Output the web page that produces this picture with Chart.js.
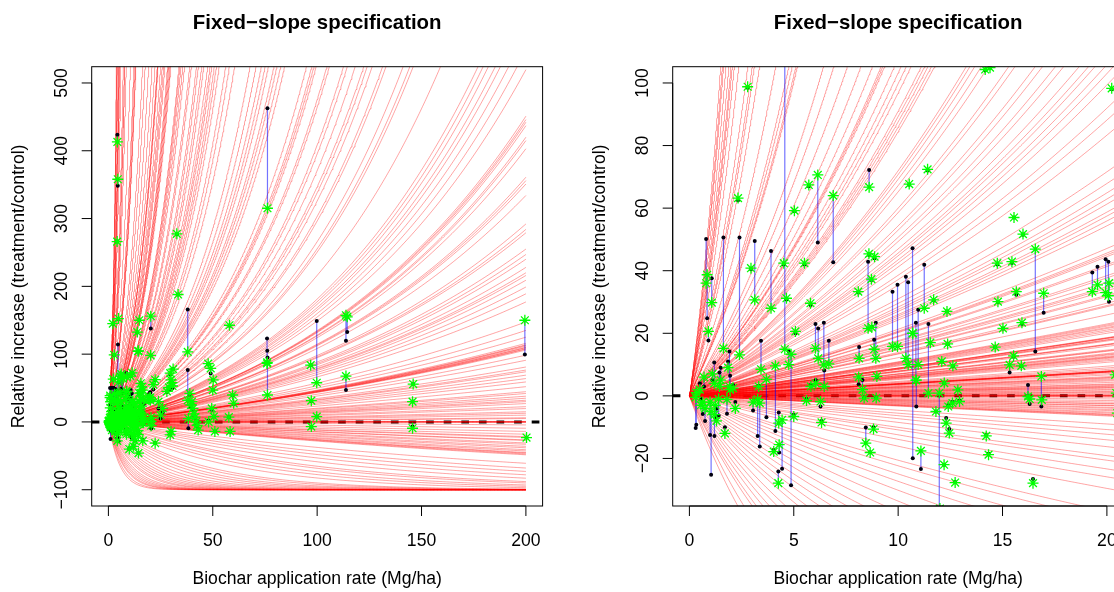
<!DOCTYPE html>
<html>
<head>
<meta charset="utf-8">
<script src="https://cdn.jsdelivr.net/npm/chart.js@4.4.0/dist/chart.umd.min.js"></script>
<style>
  html, body { margin: 0; padding: 0; background: #fff; overflow: hidden; }
  #wrap { position: relative; width: 1114px; height: 592px; overflow: hidden; }
  canvas { position: absolute; top: 0; }
</style>
</head>
<body>
<div id="wrap">
  <canvas id="full" width="581" height="592" style="left:0"></canvas>
  <canvas id="zoom" width="581" height="592" style="left:581px"></canvas>
</div>
<script>
// Study-level slopes of the log response ratio (per Mg/ha); each gives
// relative increase = 100 * (exp(slope * rate) - 1)
const slopes = [
  0.48, 0.455, 0.44, 0.41, 0.38, 0.36, 0.35, 0.334, 0.304, 0.257, 0.239, 0.231, 0.214,
  0.174, 0.151, 0.146, 0.141, 0.139, 0.112, 0.104, 0.095, 0.0875, 0.082, 0.0783, 0.0776,
  0.0769, 0.0732, 0.0709, 0.0692, 0.0677, 0.0647, 0.0638, 0.0629, 0.062, 0.0612, 0.0542,
  0.0535, 0.0526, 0.0514, 0.0502, 0.047, 0.0461, 0.0434, 0.0425, 0.041, 0.0401, 0.0385,
  0.0376, 0.037, 0.0361, 0.0354,
  0.0345, 0.0326, 0.0316, 0.0303, 0.027, 0.0259, 0.025, 0.0244, 0.0239, 0.0231, 0.0227,
  0.0222, 0.0217, 0.0193, 0.0188, 0.0186, 0.0184, 0.0175, 0.0173, 0.01626, 0.016, 0.01549,
  0.01497, 0.01477, 0.01449, 0.01394, 0.01377, 0.01297, 0.01268, 0.01254, 0.01151, 0.01034,
  0.0102, 0.01006, 0.00988, 0.00975, 0.00955, 0.00935, 0.00912,
  0.008533, 0.008487, 0.008451, 0.008404, 0.008243, 0.008195, 0.008077, 0.007641, 0.007587,
  0.007531, 0.00734, 0.006831, 0.006728, 0.006662, 0.006335, 0.006221, 0.006119, 0.005939,
  0.005816, 0.005753, 0.005641, 0.005477, 0.005306, 0.005094, 0.004531, 0.004272, 0.004055,
  0.00385, 0.003781, 0.00371, 0.003662, 0.003614, 0.003428, 0.003235, 0.002967, 0.002841,
  0.00277, 0.002624, 0.002473, 0.002319, 0.002094, 0.001844, 0.001753, 0.00161, 0.001501,
  0.001388, 0.001312, 0.001015, 0.000699, 0.000477, 0.000244, 0.000025,
  0.0037, 0.00375, 0.0038, 0.00365, 0.0003, 0.0006, 0.0009, 0.0012,
  0, 0, 0, 0.00004, -0.00004,
  -0.000225, -0.000488, -0.000754, -0.001217, -0.001539, -0.001855, -0.002231, -0.002638,
  -0.003081, -0.003318, -0.004708, -0.005697, -0.006547, -0.007571, -0.00886, -0.010601,
  -0.011513, -0.013296, -0.014979, -0.017533, -0.023026,
  -0.001, -0.0013, -0.0016, -0.002, -0.0024, -0.0028, -0.003, -0.0032,
  -0.187, -0.166, -0.144, -0.135, -0.123, -0.113, -0.103, -0.094, -0.083, -0.077, -0.0695,
  -0.0634, -0.0574, -0.0519, -0.0463, -0.041, -0.0359, -0.0319, -0.0287, -0.0253
];

// Observations: application rate, fitted value (asterisk), observed value (dot)
const rate = [
  0.30, 0.33, 0.64, 0.80, 0.85, 0.91, 1.07, 1.19, 0.99, 1.04, 1.20, 1.24, 1.40, 1.44, 1.63,
  1.80, 1.92, 1.95, 2.09, 2.40, 2.33, 2.79, 2.95, 3.13, 3.05, 3.27, 3.37, 3.43, 3.32, 3.69,
  3.91, 4.12, 4.04, 4.28, 4.30, 4.26, 4.44, 4.52, 4.57, 4.20, 4.30, 4.50, 4.65, 4.76, 4.87,
  5.00, 5.03, 5.08, 5.51, 5.61, 5.72, 5.80, 5.82, 6.04, 6.05, 6.15, 6.17, 6.28, 6.33, 6.44,
  6.46, 6.68, 6.89, 8.09, 8.11, 8.13, 8.29, 8.37, 8.45, 8.56, 8.61, 8.60, 8.66, 8.72, 8.74,
  8.82, 8.85, 8.87, 8.93, 8.95, 8.98, 9.73, 9.97, 10.37, 10.48, 10.69, 10.70, 11.25, 11.70,
  12.34, 10.85, 10.87, 10.96, 11.45, 11.09, 11.54, 12.37, 12.09, 12.62, 12.21, 12.86, 12.94,
  12.60, 12.40, 11.97, 11.81, 12.30, 12.45, 12.20, 12.73, 14.22, 14.33, 14.75, 15.45, 14.78,
  15.66, 15.02, 15.93, 14.65, 15.53, 15.34, 15.90, 16.57, 16.97, 16.22, 16.30, 16.86, 16.88,
  16.46, 19.30, 19.55, 19.94, 20.07, 20.10, 20.40, 20.45, 20.50, 14.17, 20.23, 11.41, 10.53,
  15.55, 15.98, 2.10, 4.80, 14.80, 20.30, 13.90, 14.40, 12.00, 14.40, 10.00,
  0.50, 0.55, 0.70, 0.75, 1.10, 1.30, 1.50, 1.70, 1.85, 2.20,
  22.4, 22.4, 21.5, 24.0, 25.0, 26.0, 28.0, 29.0, 29.6, 30.0, 30.5, 30.7, 29.6, 30.0, 31.0,
  32.8, 33.4, 38.0, 38.0, 38.3, 39.0, 40.0, 40.5, 41.0, 41.5, 42.0, 42.5, 43.0, 39.5, 47.8,
  49.0, 50.2, 50.0, 50.5, 51.0, 49.5, 48.0, 57.7, 58.3, 58.0, 59.5, 60.0, 76.0, 76.1, 76.2,
  76.2, 96.9, 97.2, 99.8, 99.8, 97.2, 113.8, 114.4, 113.8, 146.0, 145.7, 145.7, 199.5, 200.3
];
const fitted = [
  -0.5, 1.0, -2.0, 36.0, 38.7, 20.6, 29.8, 4.0, -2.0, -5.0, -6.0, -3.0, -1.0, 3.0, 15.2,
  -1.1, 3.0, 2.0, 2.5, 13.1, 63.2, 98.8, 40.8, 30.7, -2.0, -1.1, -2.3, 8.5, 3.0, 5.3,
  28.0, 9.6, -17.8, -8.7, -15.6, -27.9, -7.7, 42.4, 14.9, 266, 413, 358, 31.2, 10.0, 13.3,
  -6.6, 59.2, 20.6, 42.4, -1.5, 67.4, 29.6, 3.0, 15.2, 4.0, 70.6, 12.0, -1.8, -8.5, 9.9,
  3.0, 10.2, 64.0, 33.3, 6.0, 12.0, 2.0, -0.7, -15.1, 21.6, 66.7, 45.4, -18.1, 37.3, 21.9,
  -10.6, 14.9, 44.5, 12.0, -0.7, 6.2, 15.8, 15.8, 12.0, 10.0, 20.0, 20.0, 28.0, 30.7,
  27.0, 5.0, 5.0, 10.0, 0.9, -17.6, 17.0, 16.6, 11.0, 9.6, 4.1, 1.9, -1.8,
  -2.3, -3.4, 0.9, -5.0, -8.7, -11.9, -22.0, -27.7, -12.8, -18.8, 42.4, 42.9, 30.1,
  33.3, 21.6, 23.4, 15.6, 12.8, 9.9, 9.6, 46.9, 32.8, -0.2, -1.0, 6.2, -1.3,
  -27.9, 33.3, 35.5, 33.0, 32.0, 36.0, 6.7, 0.9, -5.5, 104.3, 98.3, 72.4, 67.7,
  57.0, 51.7, 145, 152.5, 150, 156, 132.6, 104.9, -36, -46, -40,
  2, -3, 6, -4, 7, -8, 5, -12, 9, -4,
  -31.4, 62.3, 55, 30, 10, 20, 45, 51, 72, 62, 58, 53, -19, -14, 78,
  277.5, 188, 103.4, 32, 5, 42, 30, 20, 12, 7, 0, -5, -12, 25, 86,
  79, 62, 47, 7.8, -14, 20, 0, 7, -14, 142.6, 39.7, 27.5, 86.3, 88, 39.7,
  315.2, 83.8, 31.4, 57.8, 7.8, -6.9, 157.3, 155, 67.6, 55.9, 29.9, -9.3, 150, -23
];
const observed = [
  -10.3, -9.2, -5.8, 50.1, 24.8, 17.7, 37.6, 10.7, -12.5, -25.2, -12.8, -7.1, -6.3, 7.5, 50.6,
  -5.7, 14.2, 6.4, 3.5, 50.6, 62.5, 98.5, 40.5, 49.5, -4.7, -12.8, -16.2, 17.6, 3.2, -6.8,
  46.3, -11.2, -17.3, -5.3, -18.1, -24.2, -23.3, 42.0, 114.2, 266, 423.5, 348.5, 30.8, 14.2, -28.6,
  -6.0, 59.0, 20.0, 42.0, -1.0, 67.0, 29.0, 3.5, 23.0, 5.1, 49.0, 21.5, -3.4, -8.0, 23.4,
  8.1, 17.6, 42.7, 33.0, 3.7, 15.6, 5.1, -0.5, -10.1, 42.9, 72.2, 45.0, -18.0, 37.0, 22.0,
  -10.0, 17.9, 44.0, 23.4, -0.5, 6.0, 33.3, 35.5, 38.1, 36.3, 47.2, -19.9, 41.9, 30.5,
  27.0, 23.4, -3.4, 27.5, 23.0, -23.4, 17.0, 16.5, 11.0, 9.5, 4.0, 2.0, -1.5,
  -2.0, -3.0, -36.5, -5.0, -7.1, -10.6, -22.0, -27.5, -12.5, -18.5, 42.0, 42.5, 30.0,
  32.3, 21.5, 23.0, 15.5, 12.5, 7.5, 9.5, 14.2, 26.6, 3.5, -2.6, -3.4, -1.0,
  -26.6, 39.4, 41.3, 43.7, 42.9, 30.1, 6.5, 1.0, -9.6, 104.0, 98.0, 72.0, 67.5,
  57.0, 51.5, 145, 152, 150, 137.8, 132, 105, -36, -46, -40,
  4, -1, 3, -8, 5, -4, 9, -10, 11, -2,
  -31, 62, 48, 20, 5, 14, 44, 47, 70, 58, 52, 50, -18, -14, 78,
  277, 188, 165.7, 76.5, -9.3, 40, 28, 18, 10, 5, -2, -6, -10, 22, 86,
  71.6, 62, 47, 8, -14, 18, 2, 7, -14, 142, 39, 27, 123, 104.9, 95,
  462.8, 83.8, 31, 149, 8, -7, 119.6, 132.8, 47.1, 56, 30, -6.9, 99.5, -23
];

// Axis ticks for the two panels
const fullXTicks = [0, 50, 100, 150, 200];
const fullYTicks = [-100, 0, 100, 200, 300, 400, 500];
const zoomXTicks = [0, 5, 10, 15, 20];
const zoomYTicks = [-20, 0, 20, 40, 60, 80, 100];

const TITLE = 'Fixed\u2212slope specification';
const XLAB = 'Biochar application rate (Mg/ha)';
const YLAB = 'Relative increase (treatment/control)';
const FONT = '"Liberation Sans", Arial, Helvetica, sans-serif';

// R-style frame: box, outward ticks, rotated y labels, titles
const rFrame = {
  id: 'rFrame',
  afterDraw(chart, args, o) {
    const { ctx, chartArea: a } = chart;
    const xs = chart.scales.x, ys = chart.scales.y;
    ctx.save();
    ctx.strokeStyle = '#000';
    ctx.lineWidth = 1;
    ctx.strokeRect(a.left, a.top, a.right - a.left, a.bottom - a.top);

    const tl = 10;
    ctx.fillStyle = '#000';
    ctx.font = '17.6px ' + FONT;
    const x0 = xs.getPixelForValue(o.xTicks[0]);
    const x1 = xs.getPixelForValue(o.xTicks[o.xTicks.length - 1]);
    ctx.beginPath();
    ctx.moveTo(x0, a.bottom); ctx.lineTo(x1, a.bottom);
    o.xTicks.forEach(v => {
      const px = xs.getPixelForValue(v);
      ctx.moveTo(px, a.bottom); ctx.lineTo(px, a.bottom + tl);
    });
    const y0 = ys.getPixelForValue(o.yTicks[0]);
    const y1 = ys.getPixelForValue(o.yTicks[o.yTicks.length - 1]);
    ctx.moveTo(a.left, y0); ctx.lineTo(a.left, y1);
    o.yTicks.forEach(v => {
      const py = ys.getPixelForValue(v);
      ctx.moveTo(a.left, py); ctx.lineTo(a.left - tl, py);
    });
    ctx.stroke();

    ctx.textAlign = 'center';
    ctx.textBaseline = 'middle';
    o.xTicks.forEach(v => {
      ctx.fillText(String(v).replace('-', '\u2212'), xs.getPixelForValue(v), a.bottom + 35);
    });
    o.yTicks.forEach(v => {
      ctx.save();
      ctx.translate(a.left - 30, ys.getPixelForValue(v));
      ctx.rotate(-Math.PI / 2);
      ctx.fillText(String(v).replace('-', '\u2212'), 0, 0);
      ctx.restore();
    });

    const cx = (a.left + a.right) / 2;
    ctx.fillText(XLAB, cx, 579);
    ctx.save();
    ctx.translate(a.left - 73, (a.top + a.bottom) / 2);
    ctx.rotate(-Math.PI / 2);
    ctx.fillText(YLAB, 0, 0);
    ctx.restore();

    ctx.font = 'bold 20.4px ' + FONT;
    ctx.fillText(TITLE, cx, 23);
    ctx.restore();
  }
};

function curveData(b, xEnd, yTop) {
  const cross = b > 0 ? Math.log(1 + yTop / 100) / b : Infinity;
  const end = Math.min(xEnd, cross);
  const n = 300;
  const pts = [];
  for (let i = 0; i <= n; i++) {
    const x = end * i / n;
    pts.push({ x, y: 100 * (Math.exp(b * x) - 1) });
  }
  return pts;
}

function buildChart(id, xr, yr, xTicks, yTicks) {
  const datasets = [];
  const curveEnd = Math.min(200, xr[1]);
  // layering, bottom to top: zero line, curves, segments, dots, asterisks
  slopes.forEach(b => {
    datasets.push({
      data: curveData(b, curveEnd, yr[1] + 20),
      showLine: true, pointRadius: 0, borderWidth: 1,
      borderColor: 'rgba(255,0,0,0.36)', order: 3, clip: 0
    });
  });
  datasets.push({
    data: [{ x: xr[0], y: 0 }, { x: xr[1], y: 0 }],
    showLine: true, pointRadius: 0, borderWidth: 3, borderColor: '#000',
    borderDash: [7.7, 9.9], borderCapStyle: 'butt', order: 4, clip: 0
  });
  const segs = [];
  rate.forEach((x, i) => {
    segs.push({ x, y: observed[i] }, { x, y: fitted[i] }, { x, y: null });
  });
  datasets.push({
    data: segs, showLine: true, spanGaps: false, pointRadius: 0, borderWidth: 1.2,
    borderColor: 'rgba(0,0,255,0.55)', order: 2, clip: 0
  });
  datasets.push({
    data: rate.map((x, i) => ({ x, y: fitted[i] })),
    pointStyle: 'star', pointRadius: 5.5, borderWidth: 1.3,
    borderColor: '#00ff00', backgroundColor: 'rgba(0,0,0,0)', order: 0, clip: 0
  });
  datasets.push({
    data: rate.map((x, i) => ({ x, y: observed[i] })),
    pointStyle: 'circle', pointRadius: 2, borderWidth: 0,
    backgroundColor: '#000010', order: 1, clip: 0
  });

  return new Chart(document.getElementById(id), {
    type: 'scatter',
    data: { datasets },
    options: {
      responsive: false, animation: false, events: [],
      parsing: false, normalized: true,
      layout: { padding: { left: 91.7, right: 38.4, top: 66.7, bottom: 86 } },
      plugins: {
        legend: { display: false }, tooltip: { enabled: false },
        rFrame: { xTicks, yTicks }
      },
      scales: {
        x: { type: 'linear', min: xr[0], max: xr[1], display: false },
        y: { type: 'linear', min: yr[0], max: yr[1], display: false }
      }
    },
    plugins: [rFrame]
  });
}

buildChart('full', [-8, 208], [-124, 524], fullXTicks, fullYTicks);
buildChart('zoom', [-0.8, 20.8], [-35.2, 105.2], zoomXTicks, zoomYTicks);
</script>
</body>
</html>
